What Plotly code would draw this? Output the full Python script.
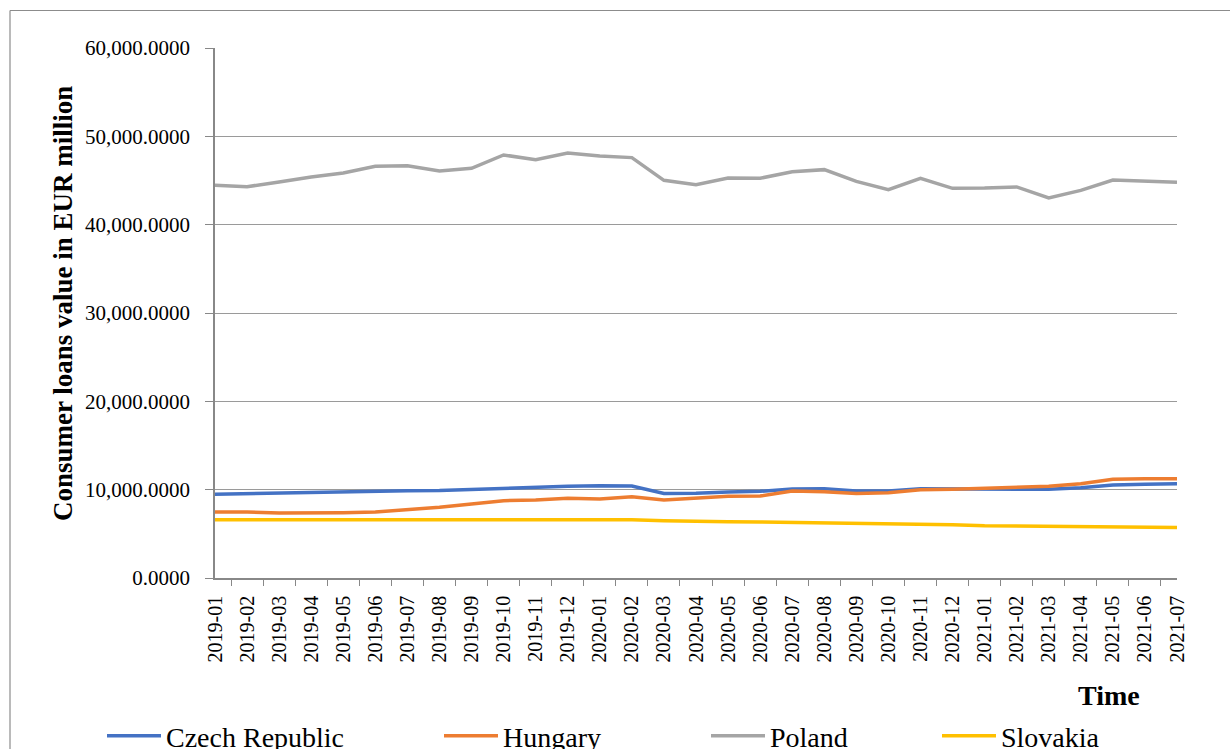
import plotly.graph_objects as go

months = [
    "2019-01", "2019-02", "2019-03", "2019-04", "2019-05", "2019-06", "2019-07", "2019-08",
    "2019-09", "2019-10", "2019-11", "2019-12", "2020-01", "2020-02", "2020-03", "2020-04",
    "2020-05", "2020-06", "2020-07", "2020-08", "2020-09", "2020-10", "2020-11", "2020-12",
    "2021-01", "2021-02", "2021-03", "2021-04", "2021-05", "2021-06", "2021-07",
]

czech = [9470, 9550, 9580, 9660, 9700, 9850, 9890, 9900, 10020, 10190, 10260, 10380,
         10450, 10420, 9580, 9600, 9740, 9810, 10080, 10110, 9850, 9850, 10110, 10080,
         10040, 10000, 10040, 10230, 10530, 10600, 10680]
hungary = [7470, 7470, 7360, 7360, 7400, 7470, 7740, 8000, 8380, 8750, 8830, 9020,
           8940, 9210, 8830, 9040, 9250, 9280, 9850, 9770, 9580, 9660, 10000, 10040,
           10150, 10230, 10380, 10680, 11170, 11250, 11250]
poland = [44450, 44300, 44830, 45400, 45850, 46600, 46680, 46080, 46380, 47890, 47360, 48120,
          47780, 47590, 45020, 44530, 45290, 45250, 46000, 46230, 44900, 43960, 45250, 44110,
          44150, 44270, 43020, 43880, 45060, 44900, 44790]
slovakia = [6600, 6600, 6600, 6600, 6600, 6600, 6600, 6600, 6600, 6600, 6600, 6600,
            6590, 6590, 6490, 6400, 6370, 6340, 6300, 6260, 6220, 6190, 6150, 6040,
            5920, 5880, 5850, 5810, 5770, 5770, 5730]

series = [
    ("Czech Republic", czech, "#4472C4", "legend"),
    ("Hungary", hungary, "#ED7D31", "legend2"),
    ("Poland", poland, "#A5A5A5", "legend3"),
    ("Slovakia", slovakia, "#FFC000", "legend4"),
]

FONT = "Liberation Serif"

# pixel geometry of the plot area
L, R, T, B = 215, 1177, 48, 578
W, H = R - L, B - T


def px_x(px):
    return (px - L) / W


def px_y(py):
    return (B - py) / H


fig = go.Figure()
for name, vals, color, leg in series:
    fig.add_trace(go.Scatter(
        x=months, y=vals, name=name, mode="lines",
        line=dict(color=color, width=3.5),
        legend=leg,
    ))

legend_common = dict(
    orientation="h", font=dict(family=FONT, size=28, color="black"),
    itemwidth=54, xanchor="left", yanchor="middle", y=px_y(736),
    bgcolor="rgba(0,0,0,0)", borderwidth=0,
)

fig.update_layout(
    width=1230, height=749,
    margin=dict(l=L, r=1230 - R, t=T, b=749 - B, autoexpand=False),
    paper_bgcolor="white", plot_bgcolor="white",
    font=dict(family=FONT, size=21, color="black"),
    showlegend=True,
    legend=dict(x=px_x(102), **legend_common),
    legend2=dict(x=px_x(439), **legend_common),
    legend3=dict(x=px_x(706), **legend_common),
    legend4=dict(x=px_x(937), **legend_common),
    xaxis=dict(
        type="category", tickangle=-90, tickson="boundaries",
        ticks="outside", ticklen=6, tickcolor="#888888",
        showline=True, linecolor="#888888", linewidth=1.5,
        showgrid=False, ticklabelstandoff=8,
        tickfont=dict(family=FONT, size=20, color="black"),
    ),
    yaxis=dict(
        range=[0, 60000], dtick=10000, tickformat=",.4f",
        ticks="outside", ticklen=8, tickcolor="#888888",
        showline=True, linecolor="#888888", linewidth=1.5,
        showgrid=True, gridcolor="#9a9a9a", gridwidth=1,
        zeroline=False, ticklabelstandoff=11,
        tickfont=dict(family=FONT, size=21, color="black"),
    ),
    annotations=[
        dict(text="<b>Consumer loans value in EUR million</b>", textangle=-90,
             xref="paper", yref="paper", x=px_x(63), y=px_y(304),
             showarrow=False, xanchor="center", yanchor="middle",
             font=dict(family=FONT, size=27, color="black")),
        dict(text="<b>Time</b>",
             xref="paper", yref="paper", x=px_x(1109), y=px_y(695),
             showarrow=False, xanchor="center", yanchor="middle",
             font=dict(family=FONT, size=28, color="black")),
    ],
    shapes=[
        dict(type="line", xref="paper", yref="paper",
             x0=px_x(10), x1=px_x(1240), y0=px_y(10.5), y1=px_y(10.5),
             line=dict(color="#8c8c8c", width=1.2)),
        dict(type="line", xref="paper", yref="paper",
             x0=px_x(10), x1=px_x(10), y0=px_y(10.5), y1=px_y(760),
             line=dict(color="#8c8c8c", width=1.2)),
    ],
)

fig.write_html(
    "out.html",
    config={"displayModeBar": False},
    post_script="document.body.style.margin='0';document.body.style.overflow='hidden';",
)
